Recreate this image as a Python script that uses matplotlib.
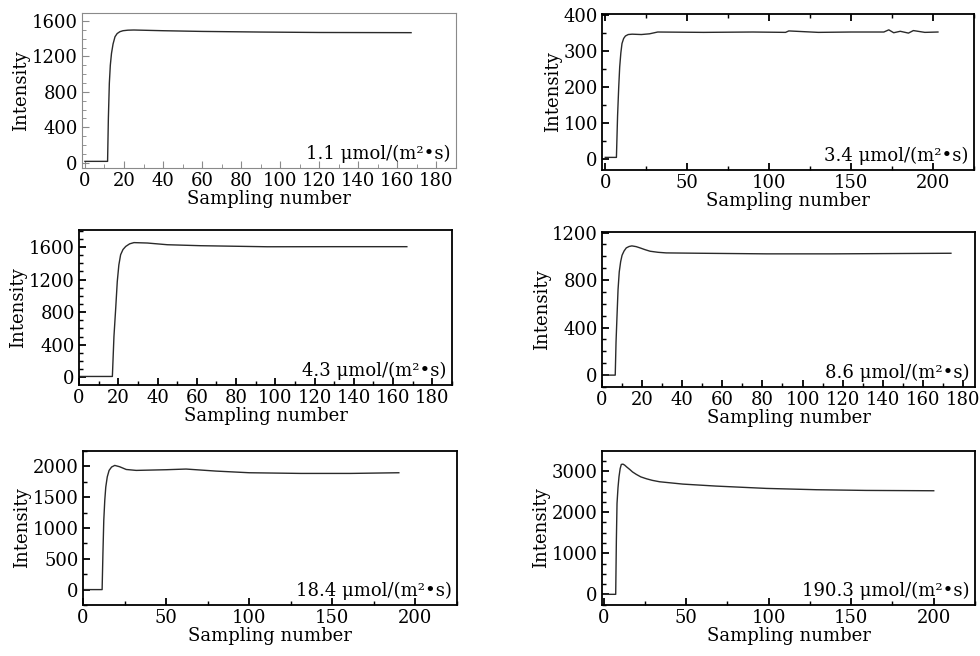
import matplotlib.pyplot as plt
from matplotlib.ticker import MultipleLocator

plt.rcParams['font.family'] = ['DejaVu Serif']

# values
x1 = [0, 11.6, 12.0, 12.5, 13.0, 13.6, 14.4, 15.4, 16.5, 17.9, 19.5, 22, 25, 40, 60, 90, 120, 167]
y1 = [15, 15, 500, 898, 1100, 1234, 1340, 1422, 1458, 1479, 1490, 1496, 1498, 1490, 1482, 1475, 1470, 1468]

x2 = [0, 6.8, 7.5, 8.2, 8.8, 9.5, 10.2, 11.2, 12.3, 14, 16.4, 22, 27, 32, 60, 90, 110, 112, 130, 150, 165, 170, 173, 176, 180, 185, 188, 195, 203]
y2 = [5, 5, 120, 200, 256, 295, 321, 335, 342, 346, 347, 346, 348, 353, 352, 353, 352, 356, 352, 353, 353, 353, 359, 351, 355, 350, 357, 352, 353]

x3 = [0, 17, 17.8, 18.7, 19.5, 20.3, 21.2, 22.4, 23.8, 25.8, 28, 34.8, 45, 62, 96, 130, 167]
y3 = [10, 10, 500, 849, 1178, 1380, 1506, 1570, 1608, 1640, 1655, 1650, 1629, 1617, 1604, 1605, 1605]

x4 = [0, 6.6, 7.0, 7.5, 8.0, 8.6, 9.3, 10, 11, 12.1, 13.5, 14.9, 17, 19, 21.5, 24, 28, 32, 49, 82, 115, 150, 174]
y4 = [0, 0, 280, 505, 720, 869, 955, 1009, 1045, 1071, 1083, 1088, 1082, 1071, 1056, 1043, 1034, 1029, 1026, 1021, 1021, 1024, 1026]

x5 = [0, 11.5, 12.0, 12.5, 13.1, 13.7, 14.6, 15.7, 17.2, 19.1, 22, 26, 32, 50, 62, 80, 100, 131, 161, 190]
y5 = [0, 0, 600, 1124, 1450, 1665, 1830, 1935, 1990, 2016, 1995, 1950, 1935, 1946, 1957, 1924, 1897, 1886, 1886, 1897]

x6 = [0, 7.3, 7.7, 8.1, 8.7, 9.3, 10.0, 10.7, 11.7, 12.7, 14, 15.8, 17.5, 19.8, 22.5, 25.9, 29.5, 33.9, 48, 68, 98.6, 129, 159, 200]
y6 = [0, 0, 1300, 2214, 2600, 2863, 3060, 3163, 3170, 3147, 3100, 3041, 2980, 2920, 2860, 2814, 2775, 2741, 2684, 2636, 2579, 2547, 2530, 2522]

labels = ['1.1 μmol/(m²•s)', '3.4 μmol/(m²•s)', '4.3 μmol/(m²•s)',
          '8.6 μmol/(m²•s)', '18.4 μmol/(m²•s)', '190.3 μmol/(m²•s)']

xs = [x1, x2, x3, x4, x5, x6]
ys = [y1, y2, y3, y4, y5, y6]

# pixel boxes (left, right, top, bottom) of each panel in the 980x656 picture
boxes = [(82, 456, 13, 168), (602, 974, 14, 170),
         (79, 452, 230, 385), (602, 975, 232, 387),
         (83, 457, 451, 605), (602, 975, 451, 605)]
xlims = [(-1.5, 190), (-2, 225), (0, 190), (0, 186), (0, 225), (-1, 225)]
ylims = [(-60, 1690), (-30, 403), (-95, 1810), (-100, 1205), (-250, 2250), (-260, 3490)]
xmaj = [20, 50, 20, 20, 50, 50]
xmin = [10, 25, 10, 10, 25, 25]
ymaj = [400, 100, 400, 400, 500, 1000]
ymin = [100, 50, 100, 100, 250, 250]

fig = plt.figure(figsize=(9.8, 6.56), dpi=100)
W, H = 980, 656

for i in range(6):
    l, r, t, b = boxes[i]
    ax = fig.add_axes([l / W, 1 - b / H, (r - l) / W, (b - t) / H])
    ax.plot(xs[i], ys[i], color='#2a2a2a', lw=1.0)
    ax.set_xlim(*xlims[i])
    ax.set_ylim(*ylims[i])
    ax.xaxis.set_major_locator(MultipleLocator(xmaj[i]))
    ax.xaxis.set_minor_locator(MultipleLocator(xmin[i]))
    ax.yaxis.set_major_locator(MultipleLocator(ymaj[i]))
    ax.yaxis.set_minor_locator(MultipleLocator(ymin[i]))
    if i == 0:
        edge = '#8a8a8a'
        lw = 0.8
    else:
        edge = 'black'
        lw = 1.3
    for sp in ax.spines.values():
        sp.set_color(edge)
        sp.set_linewidth(lw)
    ax.tick_params(which='both', direction='in', labelsize=13, colors=edge,
                   labelcolor='black', top=(i == 1), right=False, pad=3)
    ax.tick_params(which='major', length=5, width=lw)
    ax.tick_params(which='minor', length=3, width=lw * 0.8)
    ax.set_xlabel('Sampling number', fontsize=13, labelpad=0)
    ax.set_ylabel('Intensity', fontsize=13, labelpad=1)
    ax.text(0.985, 0.03, labels[i], transform=ax.transAxes, ha='right',
            va='bottom', fontsize=13)

fig.savefig('out.png', dpi=100)
